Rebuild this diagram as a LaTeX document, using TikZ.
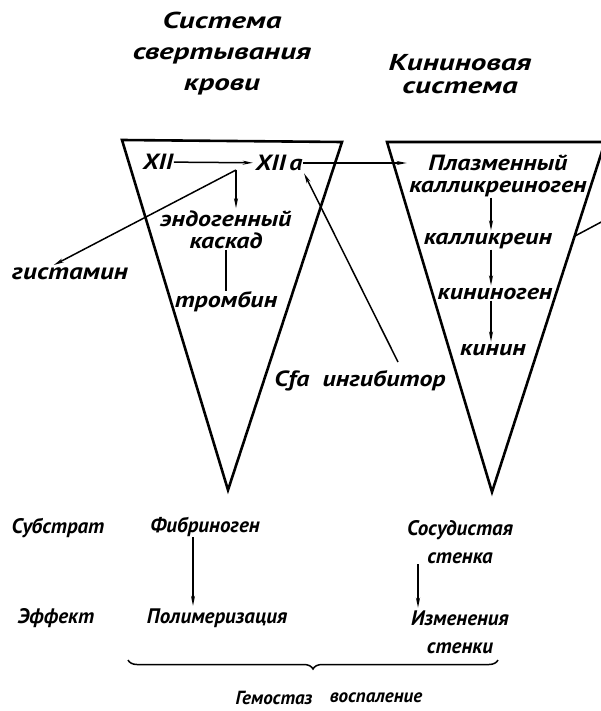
\documentclass[tikz,border=0pt]{standalone}
\usepackage{fontspec}
\setmainfont{PT Sans}
\newfontfamily\handb{PT Sans}[FakeStretch=1.18]
\newfontfamily\handc{PT Sans}[FakeStretch=1.35]
\usepackage{tikz}
\usetikzlibrary{arrows.meta, decorations.pathreplacing}

\begin{document}
\begin{tikzpicture}[x=1pt, y=-1pt, line width=1.5pt,
    lbl/.style={inner sep=0pt, align=center, font=\fontsize{21}{28}\selectfont\bfseries\itshape},
    lblin/.style={inner sep=0pt, align=center, font=\handb\fontsize{22}{22}\selectfont\bfseries\itshape},
    lblbig/.style={inner sep=0pt, align=center, font=\handc\fontsize{23}{31}\selectfont\bfseries\itshape},
    arr/.style={-{Stealth[length=10pt,width=4pt]}, shorten >=2pt},
    side/.style={line width=2.6pt}]
  \useasboundingbox (0,0) rectangle (601,711);
  \clip (0,0) rectangle (601,711);
  % the two cones
  \draw[side] (122,140) -- (342,142) -- (228,490) -- cycle;
  \draw[side] (387,142) -- (605,142) -- (492,492) -- cycle;
  % titles
  \node[lblbig] (tsv) at (222,54) {Система\\свертывания\\крови};
  \node[lblbig, font=\handc\fontsize{23}{23}\selectfont\bfseries\itshape] (tkin) at (460,74) {Кининовая\\система};
  % clotting
  \node[lblin] (xii) at (158,162) {XII};
  \node[lblin] (xiia) at (279,163) {XII\,a};
  \node[lblin] (endo) at (226,230) {эндогенный\\каскад};
  \node[lblin] (tromb) at (226,302) {тромбин};
  \node[lblin, font=\handb\fontsize{23}{23}\selectfont\bfseries\itshape] (gist) at (70,274) {гистамин};
  \node[lblin] (ingib) at (360,381) {Cfa\ \ ингибитор};
  \coordinate (jn) at (236,170);
  \coordinate (gt) at (52,266);
  \coordinate (ig) at (398,362);
  \draw[arr] (xii) -- (xiia);
  \draw[arr] (jn) -- (jn |- endo.north);
  \draw[arr] (jn) -- (gt);
  \draw (endo.south) -- (tromb.north);
  \draw[arr] (ig) -- (xiia.south east);
  % kinin
  \node[lblin] (plazm) at (498,176) {Плазменный\\калликреиноген};
  \node[lblin] (kallikr) at (488,241) {калликреин};
  \node[lblin] (kinino) at (495,294) {кининоген};
  \node[lblin] (kinin) at (493,350) {кинин};
  \draw[arr] (xiia.east) -- (xiia.east -| plazm.west);
  \draw[arr] (plazm.south -| 491,0) -- (kallikr.north -| 491,0);
  \draw[arr] (kallikr.south -| 491,0) -- (kinino.north -| 491,0);
  \draw[arr] (kinino.south -| 491,0) -- (kinin.north -| 491,0);
  \coordinate (rs) at (575,236);
  \draw (rs) -- (620,212);
  % substrate and effect
  \node[lbl] (substr) at (58,528) {Субстрат};
  \node[lbl] (fibr) at (205,527) {Фибриноген};
  \node[lbl] (sosud) at (460,542) {Сосудистая\\стенка};
  \node[lbl] (effekt) at (56,618) {Эффект};
  \node[lbl] (polim) at (217,618) {Полимеризация};
  \node[lbl] (izmen) at (460,632) {Изменения\\стенки};
  \draw[arr] (fibr.south -| 193,0) -- (polim.north -| 193,0);
  \draw[arr] (sosud.south -| 418,0) -- (izmen.north -| 418,0);
  \coordinate (bl) at (128,660);
  \coordinate (br) at (498,660);
  \draw[decorate, decoration={brace, mirror, amplitude=9pt}] (bl) -- (br);
  \node[lbl, font=\fontsize{19}{20}\selectfont\bfseries\itshape] (gem) at (274,698) {Гемостаз};
  \node[lbl, font=\fontsize{19}{20}\selectfont\bfseries\itshape] (vosp) at (376,698) {воспаление};
\end{tikzpicture}
\end{document}
